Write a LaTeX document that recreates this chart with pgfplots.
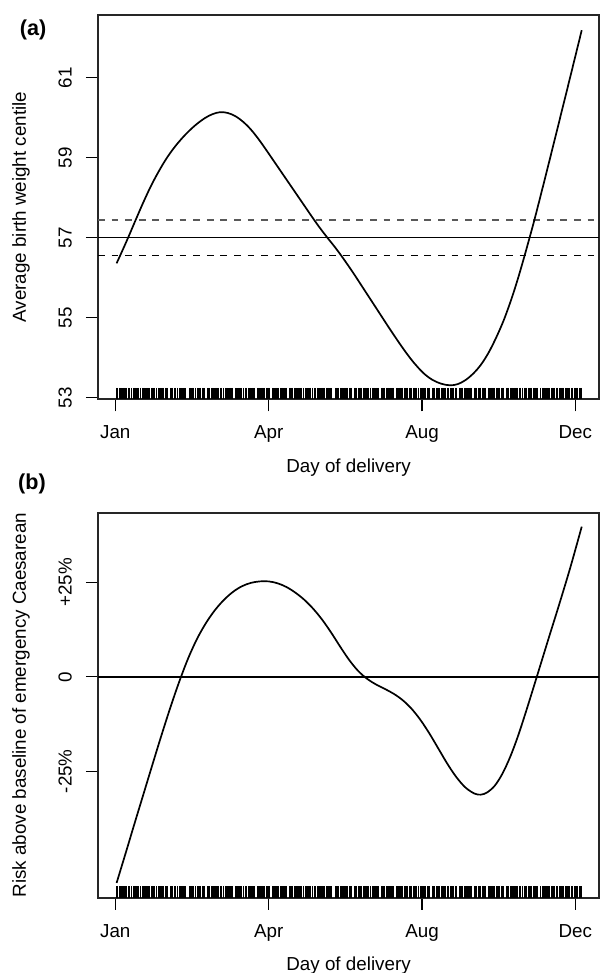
\documentclass[border=0pt]{standalone}
\usepackage{fontspec}
\setmainfont{Liberation Sans}
\usepackage{pgfplots}
\usepackage{pgfplotstable}
\pgfplotsset{compat=1.18}

% delivery days shown in the rug
\pgfplotstableread[row sep=\\, header=false]{
1\\2\\3\\4\\5\\6\\7\\8\\9\\10\\11\\13\\14\\15\\16\\17\\18\\20\\21\\22\\23\\24\\25\\26\\27\\28\\29\\30\\31\\32\\34\\35\\36\\37\\38\\39\\40\\41\\43\\44\\45\\46\\47\\49\\50\\51\\52\\53\\54\\55\\58\\59\\60\\61\\63\\64\\65\\66\\67\\68\\69\\70\\72\\73\\74\\75\\76\\77\\78\\79\\80\\81\\82\\83\\85\\86\\87\\88\\89\\90\\91\\92\\94\\95\\96\\97\\98\\99\\100\\102\\103\\104\\105\\106\\107\\108\\109\\111\\112\\113\\114\\115\\116\\117\\118\\119\\120\\121\\123\\124\\125\\126\\127\\128\\129\\130\\131\\132\\133\\134\\136\\137\\138\\139\\140\\141\\142\\143\\144\\145\\146\\147\\149\\150\\151\\152\\153\\154\\156\\157\\158\\159\\160\\161\\162\\163\\164\\165\\166\\167\\168\\169\\172\\173\\174\\175\\176\\177\\178\\179\\180\\181\\182\\183\\184\\185\\187\\188\\189\\190\\191\\192\\193\\194\\195\\196\\197\\198\\200\\201\\202\\203\\204\\205\\206\\208\\209\\210\\211\\212\\213\\214\\215\\216\\217\\218\\220\\221\\222\\223\\224\\225\\226\\227\\228\\229\\230\\231\\232\\233\\234\\235\\236\\237\\239\\240\\241\\242\\243\\244\\245\\246\\248\\249\\250\\251\\252\\253\\254\\255\\256\\257\\258\\260\\261\\262\\263\\264\\265\\266\\267\\269\\270\\271\\272\\273\\274\\275\\276\\277\\278\\279\\281\\282\\283\\284\\285\\286\\287\\288\\289\\290\\292\\293\\294\\295\\296\\297\\298\\299\\300\\301\\302\\303\\304\\306\\307\\308\\309\\310\\311\\312\\313\\314\\315\\316\\317\\319\\320\\321\\322\\323\\324\\325\\326\\327\\328\\329\\330\\333\\334\\335\\336\\337\\338\\339\\340\\341\\342\\343\\344\\345\\346\\348\\349\\350\\351\\352\\353\\354\\355\\357\\358\\359\\360\\361\\362\\363\\364\\365\\
}\rugdays

% (a) smoothed average birth weight centile
\pgfplotstableread{
day val
1   56.36
5   56.64
10  57.00
16  57.45
22  57.89
28  58.30
34  58.66
40  58.98
46  59.25
52  59.48
58  59.68
64  59.85
70  59.99
76  60.09
82  60.14
88  60.12
94  60.04
100 59.90
106 59.71
112 59.47
118 59.20
124 58.92
130 58.64
136 58.36
142 58.08
148 57.80
154 57.52
160 57.25
166 57.00
172 56.76
178 56.50
186 56.13
195 55.69
205 55.20
215 54.71
225 54.24
233 53.90
241 53.62
248 53.45
255 53.35
262 53.31
268 53.34
274 53.44
280 53.60
286 53.82
292 54.12
298 54.50
304 54.94
310 55.47
315 55.97
320 56.52
324 56.98
328 57.45
334 58.20
340 58.96
347 59.86
356 61.02
365 62.19
}\centile

% (b) risk of emergency caesarean, percent above baseline
\pgfplotstableread{
day val
1   -54.6
8   -46.8
15  -38.9
22  -31.1
29  -23.3
36  -15.6
43  -8.2
50  -1.3
57  4.9
64  10.1
71  14.3
78  17.7
85  20.4
92  22.5
99  24.0
106 24.9
113 25.3
120 25.3
127 24.8
134 23.8
141 22.3
148 20.4
155 18.0
162 15.1
169 11.7
176 8.0
183 4.5
190 1.6
197 -0.5
204 -2.0
211 -3.2
218 -4.5
225 -6.2
232 -8.5
239 -11.5
246 -15.1
253 -19.1
260 -23.1
267 -26.6
274 -29.3
281 -30.9
286 -31.2
291 -30.6
297 -28.8
303 -25.6
309 -21.2
315 -15.8
321 -9.6
327 -3.1
333 3.5
340 11.2
347 18.8
356 28.9
365 39.8
}\risk

\pgfplotsset{
  rplot/.style={
    scale only axis,
    width=250.55pt,
    xmin=-13.54, xmax=378.6,
    xtick={0,120,240,360},
    xticklabels={Jan,Apr,Aug,Dec},
    tick pos=left,
    tick align=outside,
    major tick length=6pt,
    every tick/.style={black, line width=0.6pt},
    axis line style={black!85, line width=0.9pt},
    clip=false,
    xticklabel style={anchor=north, inner sep=0pt, text height=6.7pt, text depth=0pt},
    yticklabel style={rotate=90, anchor=south, inner sep=0pt, text depth=0pt},
    xticklabel shift=6.85pt,
    yticklabel shift=7pt,
    /pgf/number format/assume math mode=true,
    xlabel={Day of delivery},
    xlabel style={at={(axis description cs:0.5,0)}, anchor=base, yshift=-36.35pt},
    ylabel style={at={(axis description cs:-0.1437,0.5)}, anchor=base},
  },
  curve/.style={black, line width=0.85pt, smooth, tension=0.55},
  rug/.style={only marks, mark=|, mark size=2.875pt, mark options={line width=0.55pt, black}},
}

\begin{document}
\begin{tikzpicture}[font=\fontsize{9.4}{11}\selectfont]

\begin{axis}[rplot,
    at={(49pt,-7.5pt)}, anchor=north west,
    height=192.15pt,
    ymin=52.96, ymax=62.57,
    ytick={53,55,57,59,61},
    ylabel={Average birth weight centile},
]
\addplot[black, line width=0.7pt] coordinates {(-13.54,57) (378.6,57)};
\addplot[black!65, line width=0.75pt, dash pattern=on 3.4pt off 3.4pt] coordinates {(-13.54,57.45) (378.6,57.45)};
\addplot[black, line width=0.75pt, dash pattern=on 3.4pt off 3.4pt] coordinates {(-13.54,56.55) (378.6,56.55)};
\addplot[curve] table[x=day, y=val] {\centile};
\addplot[rug] table[x index=0, y index=0, y expr=53.104] {\rugdays};
\node[font=\fontsize{10.8}{12}\selectfont\bfseries] at (axis description cs:-0.1297,0.961) {(a)};
\end{axis}

\begin{axis}[rplot,
    at={(49pt,-256.35pt)}, anchor=north west,
    height=192.5pt,
    ymin=-58.5, ymax=43.5,
    ytick={-25,0,25},
    yticklabels={-25\%,0,+25\%},
    ylabel={Risk above baseline of emergency Caesarean},
]
\addplot[black, line width=0.7pt] coordinates {(-13.54,0) (378.6,0)};
\addplot[curve] table[x=day, y=val] {\risk};
\addplot[rug] table[x index=0, y index=0, y expr=-56.97] {\rugdays};
\node[font=\fontsize{10.8}{12}\selectfont\bfseries] at (axis description cs:-0.1317,1.0745) {(b)};
\end{axis}

\pgfresetboundingbox
\path[use as bounding box] (0,0) rectangle (299.5pt,-486.5pt);
\end{tikzpicture}
\end{document}
